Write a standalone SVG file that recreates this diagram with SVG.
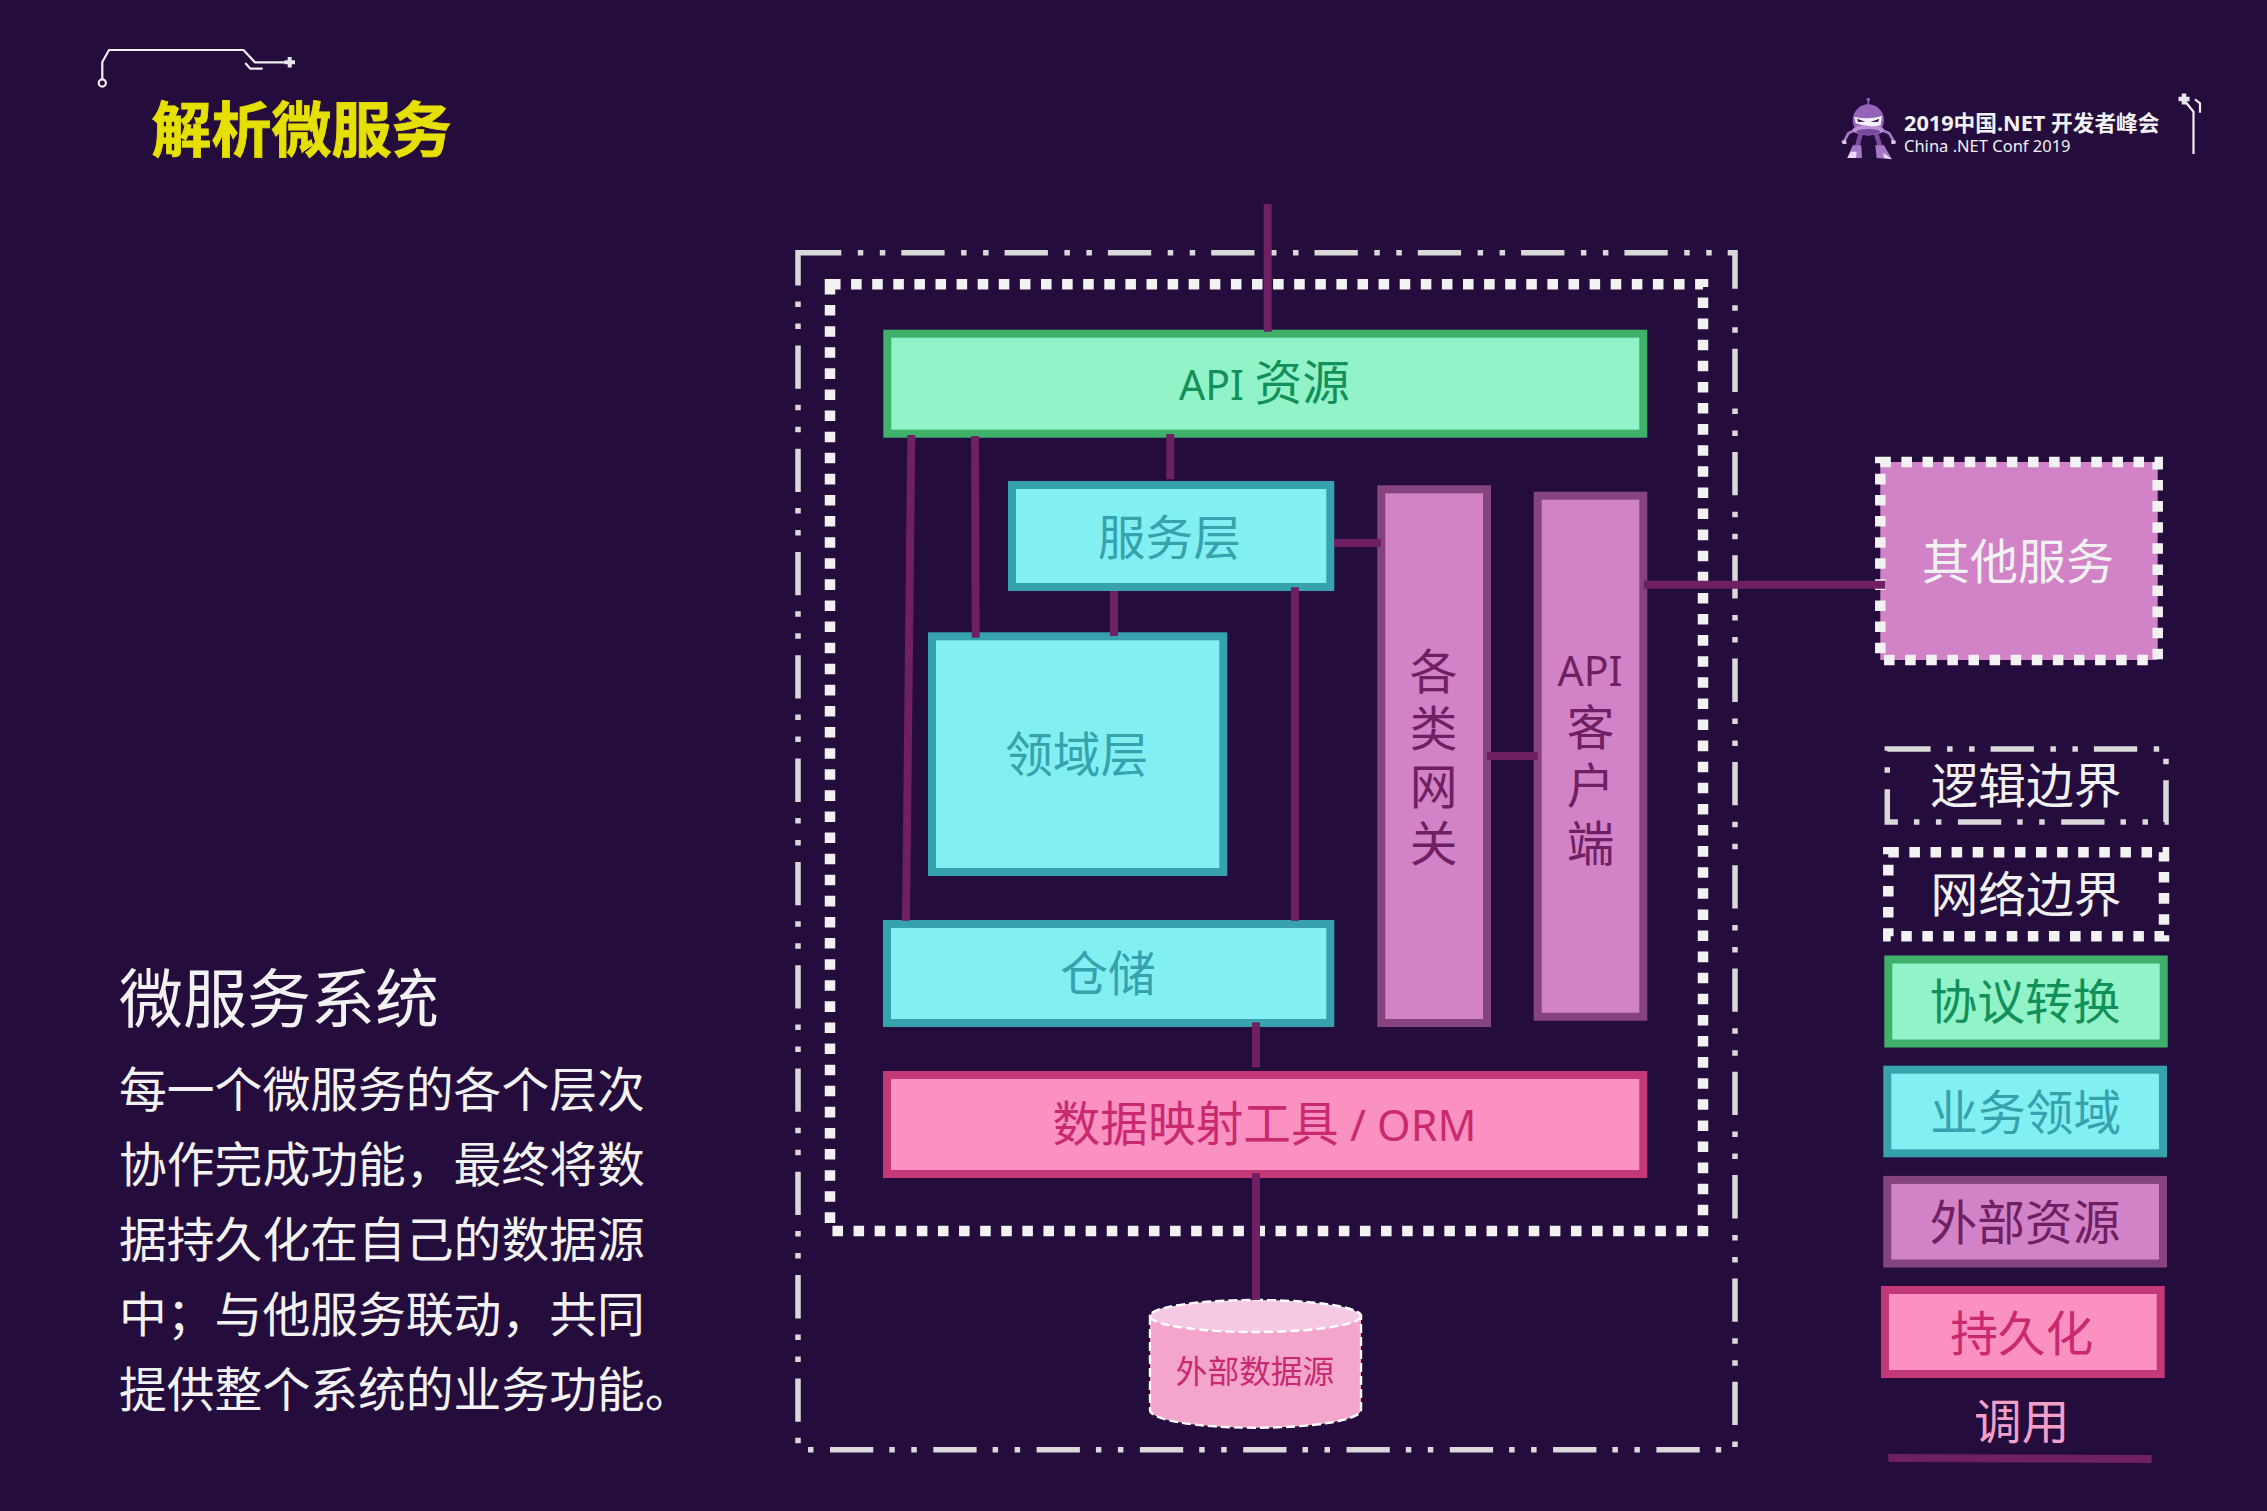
<svg xmlns="http://www.w3.org/2000/svg" width="2267" height="1511" viewBox="0 0 2267 1511">
<style>
text{font-family:"Noto Sans","Noto Sans CJK SC","Liberation Sans",sans-serif}
.m{font-size:47.7px;text-anchor:middle}
.v{font-size:47.7px;writing-mode:vertical-rl;text-anchor:start}
.lat{font-size:41px}
.para{font-size:47.8px;fill:#f2f2f2}
.dd{fill:none;stroke:#d9d9d9;stroke-width:5.5;stroke-dasharray:43.3 16.5 5.5 16.5 5.5 16}
.dot{fill:none;stroke:#f2f2f2;stroke-width:10.5;stroke-dasharray:10.55 10.55}
.g{fill:#92f2c8;stroke:#3fb16a;stroke-width:8}
.t{fill:#82eff2;stroke:#36a2ad;stroke-width:8}
.p{fill:#d282c6;stroke:#86447f;stroke-width:8}
.r{fill:#fa91c0;stroke:#c43878;stroke-width:8}
.gt{fill:#12905a}.tt{fill:#36a2ad}.pt{fill:#6f1f63}.rt{fill:#c9296f}
.w{fill:#f2f2f2}
.cn{stroke:#6f1f63;stroke-width:8;fill:none}
.deco{fill:none;stroke:#f0eef2;stroke-width:2.2}
.db{stroke:#fff;stroke-width:2.4;stroke-dasharray:9 4}
</style>
<rect width="2267" height="1511" fill="#240c3d"/>
<g id="decor-left">
<path class="deco" d="M102.3 79V62L109 50H243.5L255 62.3H285"/>
<path class="deco" d="M245.3 63L250.3 68.7H262.7"/>
<circle class="deco" cx="102.3" cy="83" r="3.6"/>
<path d="M284.5 62.3H295M289.7 57V67.6" stroke="#e8e6ec" stroke-width="4" fill="none"/>
</g>
<g id="title"><text x="151.6" y="152" font-size="60" font-weight="700" fill="#e6e000" stroke="#e6e000" stroke-width=".8">解析微服务</text></g>
<g id="logo">
<g transform="translate(1820 70) scale(.3333)">
<path d="M145 85V108" stroke="#9563b8" stroke-width="5"/><circle cx="145" cy="88" r="5" fill="#9563b8"/>
<path d="M105 180L85 190L72 215M185 180L208 190L222 215" fill="none" stroke="#a577c8" stroke-width="8"/>
<path d="M64 213L78 209L80 222L68 222ZM214 209L228 213L226 222L214 222Z" fill="#d9c4e8"/>
<path d="M122 190L112 228M168 190L180 228" stroke="#7b4a9e" stroke-width="14"/>
<path d="M82 264L98 226H124L126 264Z" fill="#a577c8"/><path d="M166 226H192L216 268L170 264Z" fill="#a577c8"/>
<path d="M82 264L92 245H110L108 264ZM190 248L216 268L192 264Z" fill="#e8d8f2"/>
<circle cx="145" cy="150" r="47" fill="#9563b8"/>
<ellipse cx="145" cy="180" rx="47" ry="15" fill="#b88fd6"/>
<ellipse cx="145" cy="186" rx="36" ry="9" fill="#7b4a9e"/>
<path d="M103 140Q145 150 186 138L182 166Q145 174 107 160Z" fill="#f4f0f8"/>
<path d="M112 146L136 155L114 156ZM152 156L178 146L174 156Z" fill="#3b1a58"/>
</g>
<text x="1904" y="131" font-size="21.7" font-weight="700" fill="#f2f2f2">2019中国.NET 开发者峰会</text>
<text x="1904" y="152" font-size="16.5" fill="#f2f2f2">China .NET Conf 2019</text>
</g>
<g id="decor-right">
<path class="deco" d="M2193.5 154V111.7L2184 100M2195 99.3L2200 103.3V112.7" stroke-width="2.4"/>
<path d="M2178.5 99H2189.5M2184 93.5V104.5" stroke="#e8e6ec" stroke-width="4.5" fill="none"/>
</g>
<g id="intro">
<text x="119" y="1022" font-size="64" fill="#f2f2f2">微服务系统</text>
<text class="para" x="119" y="1107">每一个微服务的各个层次</text>
<text class="para" x="119" y="1182">协作完成功能，最终将数</text>
<text class="para" x="119" y="1257">据持久化在自己的数据源</text>
<text class="para" x="119" y="1332">中；与他服务联动，共同</text>
<text class="para" x="119" y="1407">提供整个系统的业务功能。</text>
</g>
<g id="logical-boundary"><rect class="dd" x="798" y="252.7" width="937" height="1197"/></g>
<g id="network-boundary"><rect class="dot" x="830" y="284.3" width="873" height="946.7"/></g>
<g id="api-resource"><rect class="g" x="887.3" y="333.7" width="756" height="100"/><text class="m gt" x="1264.5" y="400"><tspan class="lat">API </tspan>资源</text></g>
<g id="service-layer"><rect class="t" x="1012" y="485" width="318.3" height="102"/><text class="m tt" x="1169.3" y="555">服务层</text></g>
<g id="domain-layer"><rect class="t" x="932" y="636.3" width="291.3" height="235.7"/><text class="m tt" x="1076.7" y="772">领域层</text></g>
<g id="repository"><rect class="t" x="887" y="924" width="443.3" height="99"/><text class="m tt" x="1108" y="991">仓储</text></g>
<g id="orm"><rect class="r" x="887" y="1075" width="756.3" height="99"/><text class="m rt" x="1264.5" y="1141">数据映射工具<tspan style="font-size:43px"> / ORM</tspan></text></g>
<g id="gateways"><rect class="p" x="1381.3" y="489.3" width="105.7" height="533.7"/>
<text class="v pt" x="1431.5" y="647" letter-spacing="9.6">各类网关</text></g>
<g id="api-client"><rect class="p" x="1537.7" y="495.7" width="105.6" height="521"/>
<text class="m pt" x="1590" y="686" style="font-size:41px">API</text><text class="v pt" x="1588.5" y="703" letter-spacing="10.3">客户端</text></g>
<g id="external-datasource">
<path d="M1150 1316V1410C1150 1420 1197 1427.7 1255.5 1427.7S1361 1420 1361 1410V1316Z" fill="#f3a5cb" class="db"/>
<ellipse cx="1255.5" cy="1316" rx="105.5" ry="16" fill="#f6c9e3" class="db"/>
<text x="1255" y="1383" font-size="31.7" text-anchor="middle" class="rt">外部数据源</text>
</g>
<g id="other-service"><rect x="1880.3" y="462" width="277.4" height="198" fill="#d282c6"/><rect class="dot" x="1880.3" y="462" width="277.4" height="198"/><text class="m w" x="2018" y="579" style="font-size:48px">其他服务</text></g>
<g id="legend-logical"><rect class="dd" x="1887.3" y="749" width="278.7" height="73"/><text class="m w" x="2026" y="803">逻辑边界</text></g>
<g id="legend-network"><rect class="dot" x="1888.3" y="852.3" width="275.7" height="84"/><text class="m w" x="2026" y="912">网络边界</text></g>
<g id="legend-protocol"><rect class="g" x="1888.3" y="959.5" width="275.4" height="84"/><text class="m gt" x="2025" y="1019">协议转换</text></g>
<g id="legend-domain"><rect class="t" x="1887.3" y="1069.7" width="275.7" height="83.6"/><text class="m tt" x="2025.7" y="1130">业务领域</text></g>
<g id="legend-external"><rect class="p" x="1887.3" y="1179.9" width="275.7" height="83.6"/><text class="m pt" x="2025" y="1240">外部资源</text></g>
<g id="legend-persist"><rect class="r" x="1885" y="1290" width="275.7" height="84"/><text class="m rt" x="2021.7" y="1351">持久化</text></g>
<g id="legend-call"><text class="m" x="2021.7" y="1439" fill="#f3a0c8">调用</text></g>
<g id="connectors">
<path class="cn" d="M1267.7 204V331.7"/>
<path class="cn" d="M911.3 435L906 920.7"/>
<path class="cn" d="M975 436L975.7 637.7"/>
<path class="cn" d="M1170.3 434V479.3"/>
<path class="cn" d="M1114 591V636"/>
<path class="cn" d="M1295 587.3V920.7"/>
<path class="cn" d="M1334 543H1381"/>
<path class="cn" d="M1487 756H1537.7"/>
<path class="cn" d="M1643.7 584.7H1885.3"/>
<path class="cn" d="M1256 1022.3V1067.3"/>
<path class="cn" d="M1256 1173V1300"/>
<path class="cn" d="M1888.3 1458L2151.7 1459"/>
</g>
</svg>
